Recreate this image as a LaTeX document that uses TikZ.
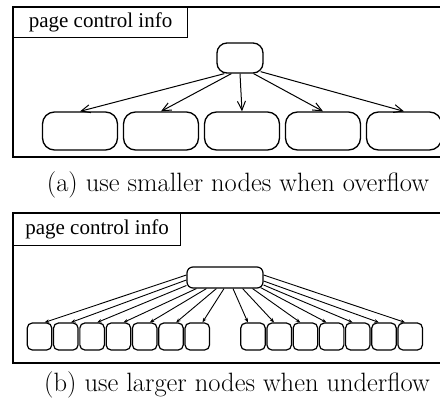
\documentclass[tikz,border=0pt]{standalone}
\usepackage{fontspec}
\newfontfamily\boxfont{Liberation Serif}
\usetikzlibrary{arrows.meta}

\begin{document}
\begin{tikzpicture}[x=1pt,y=-1pt,
    frame/.style={line width=1.4pt},
    infobox/.style={draw, line width=1.1pt, inner sep=0pt, anchor=north west,
      font=\boxfont\fontsize{21}{24}\selectfont},
    bignode/.style={draw, line width=1.3pt, rounded corners=12pt, inner sep=0pt,
      minimum width=75pt, minimum height=38pt},
    smallnode/.style={draw, line width=1.2pt, rounded corners=5pt, inner sep=0pt,
      minimum width=24.5pt, minimum height=27pt},
    arrowa/.style={line width=1pt, -{Straight Barb[length=9pt,width=8pt]}},
    arrowb/.style={line width=0.9pt, -{Stealth[length=4.5pt,width=3.5pt]}},
    caption/.style={font=\fontsize{26.5}{31}\selectfont}]
  \clip (0,0) rectangle (440,399);

  % (a) overflow
  \begin{scope}
    \draw[frame] (13,7) rectangle (446,157);
    \node[infobox, minimum width=174pt, minimum height=30pt] (infoa) at (13,7) {page control info};
    \node[draw, line width=1.3pt, rounded corners=10pt, minimum width=46pt, minimum height=30pt] (ra) at (240,58) {};
    \foreach \i in {1,...,5}
      \node[bignode] (la\i) at ({80+81*(\i-1)},131) {};
    \draw[arrowa] ([xshift=8pt]ra.south west) -- (la1.north);
    \draw[arrowa] ([xshift=15pt]ra.south west) -- (la2.north);
    \draw[arrowa] (ra.south) -- (la3.north);
    \draw[arrowa] ([xshift=-10pt]ra.south east) -- (la4.north);
    \draw[arrowa] ([xshift=-3pt,yshift=2pt]ra.south east) -- (la5.north);
    \node[caption] (capa) at (238,185) {(a) use smaller nodes when overflow};
  \end{scope}

  % (b) underflow
  \begin{scope}
    \draw[frame] (13,213) rectangle (446,363);
    \node[infobox, minimum width=167pt, minimum height=32pt] (infob) at (13,213) {page control info};
    \node[draw, line width=1.2pt, rounded corners=6pt, minimum width=76pt, minimum height=21pt] (rb) at (225,277.5) {};
    \foreach \i in {1,...,7}
      \node[smallnode] (lb\i) at ({39.5+26.3*(\i-1)},336.5) {};
    \foreach \i in {8,...,14}
      \node[smallnode] (lb\i) at ({253+26.2*(\i-8)},336.5) {};
    \foreach \i/\an/\dx/\dy in {1/west/0/2.5, 2/west/0/-2.5, 3/west/0/-8,
        4/south west/10/0, 5/south west/20/0, 6/south west/30/0, 7/south/-1/0}
      \draw[arrowb] ([xshift=\dx pt,yshift=\dy pt]rb.\an) -- (lb\i.70);
    \foreach \i/\an/\dx/\dy in {8/south/8/0, 9/south east/-21/0, 10/south east/-11/0,
        11/south east/-3/1, 12/east/0/-7.5, 13/east/0/-3.5, 14/east/0/2.5}
      \draw[arrowb] ([xshift=\dx pt,yshift=\dy pt]rb.\an) -- (lb\i.110);
    \node[caption] (capb) at (237,385) {(b) use larger nodes when underflow};
  \end{scope}
\end{tikzpicture}
\end{document}
